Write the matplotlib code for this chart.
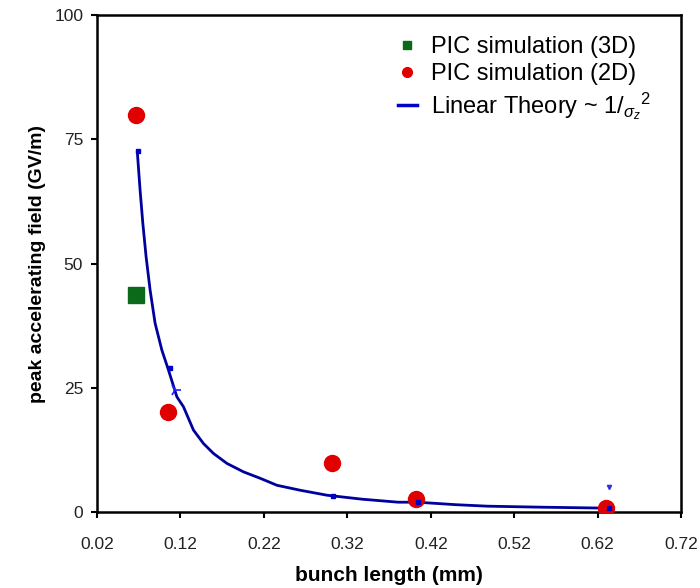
import matplotlib.pyplot as plt
from matplotlib.lines import Line2D

plt.rcParams['font.family'] = ['Liberation Sans', 'DejaVu Sans']
plt.rcParams['mathtext.fontset'] = 'custom'
plt.rcParams['mathtext.rm'] = 'Liberation Sans'
plt.rcParams['mathtext.it'] = 'Liberation Sans:italic'

# PIC simulation (3D)
x_3d = [0.067]
y_3d = [43.7]

# PIC simulation (2D)
x_2d = [0.067, 0.105, 0.302, 0.402, 0.630]
y_2d = [79.9, 20.1, 9.9, 2.6, 0.9]

# linear theory curve
x_lin = [0.0684, 0.0716, 0.0749, 0.0788, 0.0836, 0.0896, 0.0977, 0.1056,
         0.1157, 0.1236, 0.1356, 0.1476, 0.1596, 0.1757, 0.1956, 0.2157,
         0.2357, 0.2637, 0.2958, 0.338, 0.381, 0.404, 0.45, 0.488, 0.552,
         0.633]
y_lin = [72.2, 64.8, 58.1, 51.4, 44.7, 38.0, 32.6, 28.6,
         23.2, 21.2, 16.5, 13.8, 11.8, 9.8, 8.1, 6.8,
         5.4, 4.4, 3.4, 2.6, 2.0, 2.0, 1.5, 1.2, 1.0,
         0.8]

# small marks sitting on the theory curve
x_lin_pts = [0.069, 0.107, 0.303, 0.405, 0.634]
y_lin_pts = [72.6, 29.0, 3.3, 2.0, 0.8]

xticks = [0.02, 0.12, 0.22, 0.32, 0.42, 0.52, 0.62, 0.72]
yticks = [0, 25, 50, 75, 100]

fig = plt.figure(figsize=(7, 5.88), dpi=100)
ax = fig.add_axes([0.1386, 0.129, 0.8344, 0.8455])

ax.plot(x_lin, y_lin, color='#00009c', lw=2.0, zorder=2)
ax.plot(x_lin_pts, y_lin_pts, 's', color='#0000c8', ms=3.5, zorder=4)
ax.plot([0.633], [5.0], 'v', color='#3030e0', ms=3, zorder=4)
ax.plot([0.113], [24.5], '4', color='#2020ff', ms=9, mew=1.2, zorder=4)

ax.plot(x_2d, y_2d, 'o', color='#e00000', ms=11.5, zorder=3)
ax.plot(x_3d, y_3d, 's', color='#0a6a1a', ms=11, zorder=3)

handles = [
    Line2D([], [], marker='s', ls='none', color='#0a6a1a', ms=6),
    Line2D([], [], marker='o', ls='none', color='#e00000', ms=7),
    Line2D([], [], color='#0000c8', lw=2.5),
]
labels = ['PIC simulation (3D)', 'PIC simulation (2D)',
          r'Linear Theory ~ 1/$_{\sigma_z}$$^2$']
ax.legend(handles, labels, loc='upper right', frameon=False, fontsize=17,
          handlelength=0.8, handletextpad=0.6, labelspacing=0.22,
          bbox_to_anchor=(0.985, 1.0))

ax.set_xlim(0.02, 0.72)
ax.set_ylim(0, 100)
ax.set_xticks(xticks)
ax.set_xticklabels(['%.2f' % t for t in xticks])
ax.set_yticks(yticks)
ax.tick_params(axis='both', direction='out', length=4, width=1.5,
               labelsize=12.5, colors='black', labelcolor='#222222')
ax.tick_params(axis='x', pad=14)
ax.tick_params(axis='y', pad=6)
for sp in ax.spines.values():
    sp.set_linewidth(1.8)

ax.set_xlabel('bunch length (mm)', fontsize=15, fontweight='bold', labelpad=10)
ax.set_ylabel('peak accelerating field (GV/m)', fontsize=14,
              fontweight='bold', labelpad=6)

fig.savefig('out.png', dpi=100)
